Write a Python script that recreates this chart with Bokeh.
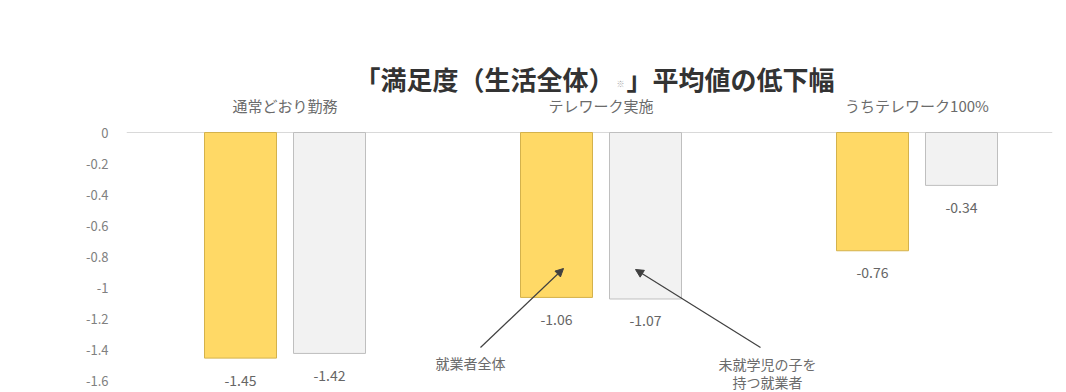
import numpy as np
from bokeh.plotting import figure
from bokeh.models import ColumnDataSource, FixedTicker, Arrow, NormalHead
from bokeh.core.properties import value
from bokeh.embed import file_html
from bokeh.resources import INLINE

# ---------------- data ----------------
groups = ["通常どおり勤務", "テレワーク実施", "うちテレワーク100%"]
series_names = ["就業者全体", "未就学児の子を持つ就業者"]
all_workers = [-1.45, -1.06, -0.76]
parents_preschool = [-1.42, -1.07, -0.34]
y_ticks = [0, -0.2, -0.4, -0.6, -0.8, -1.0, -1.2, -1.4, -1.6]
y_tick_labels = ["0", "-0.2", "-0.4", "-0.6", "-0.8", "-1", "-1.2", "-1.4", "-1.6"]
title_left = "「満足度（生活全体）"
title_mark = "※"
title_right = "」平均値の低下幅"

# ---------------- layout ----------------
FONT = "Noto Sans CJK JP"
W, H = 1058, 392
X_SCALE = 316.0      # px per category
Y_SCALE = 155.6      # px per unit
X0_PX = 284.5        # px of category 0
Y0_PX = 132.0        # px of value 0
FRAME_L, FRAME_R, FRAME_T, FRAME_B = 126, 1052, 0, 392


def dx(px):
    return (px - X0_PX) / X_SCALE


def dy(py):
    return -(py - Y0_PX) / Y_SCALE


p = figure(width=W, height=H, output_backend="svg", toolbar_location=None,
           x_range=(dx(FRAME_L), dx(FRAME_R)), y_range=(dy(FRAME_B), dy(FRAME_T)),
           min_border_left=FRAME_L, min_border_right=W - FRAME_R,
           min_border_top=0, min_border_bottom=0)
p.outline_line_color = None
p.background_fill_color = "white"
p.border_fill_color = "white"

bar_w = 72 / X_SCALE
off = (72 + 17) / 2 / X_SCALE
idx = np.arange(len(groups))

src1 = ColumnDataSource(dict(x=idx - off, top=[0] * 3, bottom=all_workers,
                             lab=[f"{v:.2f}" for v in all_workers]))
src2 = ColumnDataSource(dict(x=idx + off, top=[0] * 3, bottom=parents_preschool,
                             lab=[f"{v:.2f}" for v in parents_preschool]))

p.vbar(x="x", width=bar_w, top="top", bottom="bottom", source=src1,
       fill_color="#FFD966", line_color="#D4B24C", line_width=1)
p.vbar(x="x", width=bar_w, top="top", bottom="bottom", source=src2,
       fill_color="#F2F2F2", line_color="#BFBFBF", line_width=1)

for s in (src1, src2):
    p.text(x="x", y="bottom", text="lab", source=s, y_offset=22,
           text_align="center", text_baseline="middle",
           text_font=value(FONT), text_font_size="14px", text_color="#666666")

# category labels above the bars
cat_src = ColumnDataSource(dict(x=idx, y=[dy(105)] * 3, t=groups))
p.text(x="x", y="y", text="t", source=cat_src, text_align="center",
       text_baseline="middle", text_font=value(FONT), text_font_size="15px",
       text_color="#6b6b6b")

# title
ty = dy(78)
p.text(x=[dx(614)], y=[ty], text=[title_left], text_align="right",
       text_baseline="middle", text_font=value(FONT), text_font_size="26px",
       text_font_style="bold", text_color="#333333")
p.text(x=[dx(620)], y=[ty - 5 / Y_SCALE], text=[title_mark], text_align="center",
       text_baseline="middle", text_font=value(FONT), text_font_size="8px",
       text_color="#a6a6a6")
p.text(x=[dx(626)], y=[ty], text=[title_right], text_align="left",
       text_baseline="middle", text_font=value(FONT), text_font_size="26px",
       text_font_style="bold", text_color="#333333")

# annotations
p.add_layout(Arrow(end=NormalHead(size=8, fill_color="#404040", line_color="#404040"),
                   x_start=dx(480), y_start=dy(347), x_end=dx(563), y_end=dy(268),
                   line_color="#404040", line_width=1.2))
p.add_layout(Arrow(end=NormalHead(size=8, fill_color="#404040", line_color="#404040"),
                   x_start=dx(760), y_start=dy(347), x_end=dx(635), y_end=dy(269),
                   line_color="#404040", line_width=1.2))
p.text(x=[dx(470)], y=[dy(362)], text=[series_names[0]], text_align="center",
       text_baseline="middle", text_font=value(FONT), text_font_size="14px",
       text_color="#6b6b6b")
p.text(x=[dx(767), dx(767)], y=[dy(363), dy(381)], text=["未就学児の子を", "持つ就業者"],
       text_align="center", text_baseline="middle", text_font=value(FONT),
       text_font_size="14px", text_color="#6b6b6b")

# axes
p.xaxis.visible = False
p.xgrid.visible = False
p.yaxis.ticker = FixedTicker(ticks=y_ticks)
p.yaxis.major_label_overrides = {t: l for t, l in zip(y_ticks, y_tick_labels)}
p.yaxis.axis_line_color = None
p.yaxis.major_tick_line_color = None
p.yaxis.minor_tick_line_color = None
p.yaxis.major_label_standoff = 12
p.yaxis.major_label_text_font = FONT
p.yaxis.major_label_text_font_size = "13px"
p.yaxis.major_label_text_color = "#808080"
p.ygrid.ticker = FixedTicker(ticks=[0])
p.ygrid.grid_line_color = "#D9D9D9"
p.ygrid.grid_line_width = 1

open("out.html", "w").write(file_html(p, INLINE))
